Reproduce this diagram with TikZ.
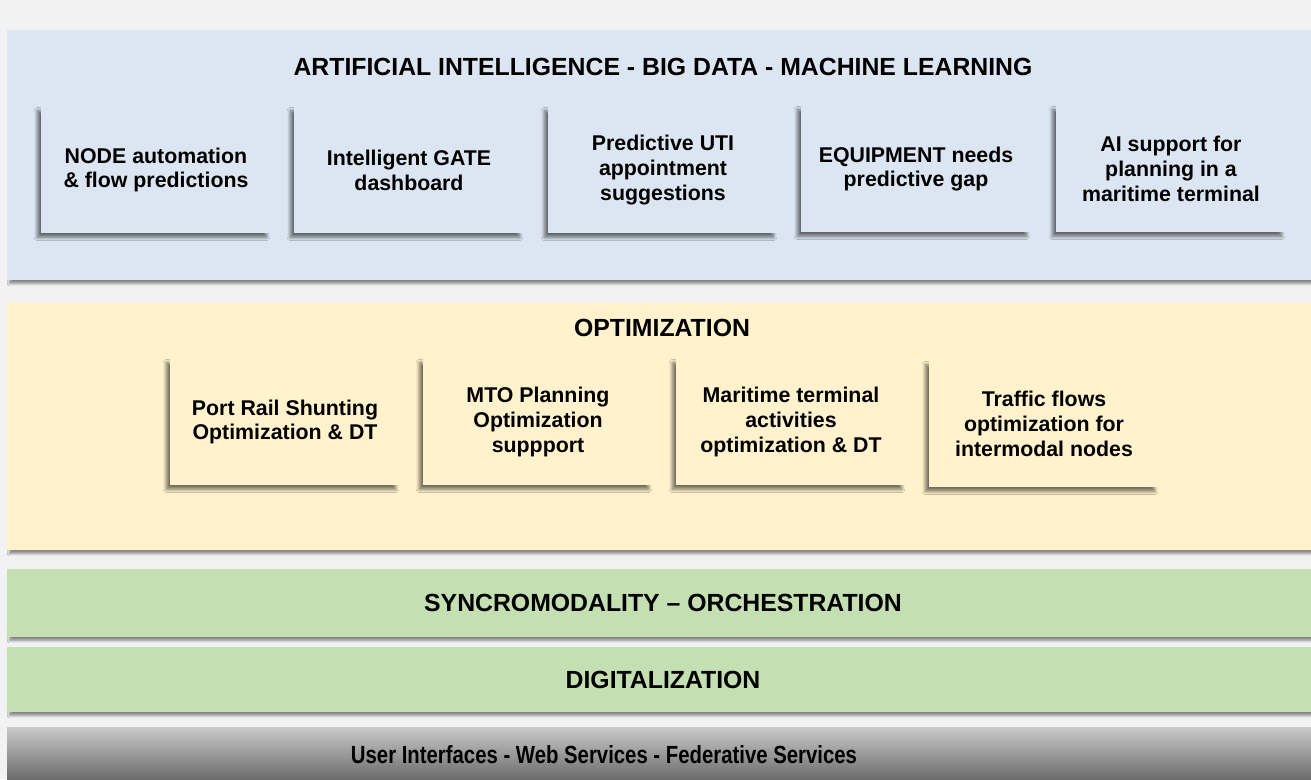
\documentclass[tikz,border=0pt]{standalone}
\usepackage{fontspec}
\setmainfont{Liberation Sans}
\usetikzlibrary{shadows.blur}

\definecolor{bgGray}{HTML}{F2F2F2}
\definecolor{aiBlue}{HTML}{DCE6F2}
\definecolor{optCream}{HTML}{FFF2CC}
\definecolor{layGreen}{HTML}{C4DFB1}
\definecolor{barTop}{HTML}{CACACA}
\definecolor{barBot}{HTML}{6C6C6C}

\begin{document}
\begin{tikzpicture}[x=0.75pt,y=-0.75pt,
    layer/.style={blur shadow={shadow xshift=2pt,shadow yshift=-2.6pt,shadow blur radius=1.8pt,shadow blur steps=10,shadow opacity=45}},
    card/.style={fill=#1,minimum width=172pt,minimum height=95pt,inner sep=0pt,align=center,
      font=\bfseries\fontsize{16}{18.6}\selectfont,
      blur shadow={shadow xshift=-3pt,shadow yshift=-3pt,shadow blur radius=2.4pt,shadow blur steps=10,shadow opacity=55}},
    heading/.style={inner sep=0pt,font=\bfseries\fontsize{18.6}{22}\selectfont}]
  \useasboundingbox (0,0) rectangle (1311,779);
  \fill[bgGray] (0,0) rectangle (1311,779);

  %Shape: layers
  \path[layer,fill=aiBlue] (7,30) rectangle (1311,280);
  \path[layer,fill=optCream] (7,303) rectangle (1311,550);
  \path[layer,fill=layGreen] (7,569) rectangle (1311,637);
  \path[layer,fill=layGreen] (7,647) rectangle (1311,712);
  \shade[top color=barTop,bottom color=barBot] (7,727) rectangle (1311,779);

  % Text Node: layer headings
  \node[heading] (aiHead) at (663,67) {ARTIFICIAL INTELLIGENCE - BIG DATA - MACHINE LEARNING};
  \node[heading] (optHead) at (662,328) {OPTIMIZATION};
  \node[heading] (syncHead) at (663,603) {SYNCROMODALITY -- ORCHESTRATION};
  \node[heading] (digiHead) at (663,680) {DIGITALIZATION};
  \node[heading,xscale=0.82] (uiHead) at (604,755) {User Interfaces - Web Services - Federative Services};

  % Card: AI row
  \node[card=aiBlue] (nodeAuto) at (156,170) {NODE automation\\\& flow predictions};
  \node[card=aiBlue] (gateDash) at (409,170) {Intelligent GATE\\dashboard};
  \node[card=aiBlue] (utiPred) at (663,170) {Predictive UTI\\appointment\\suggestions};
  \node[card=aiBlue] (equipGap) at (916,169) {EQUIPMENT needs\\predictive gap};
  \node[card=aiBlue] (aiPlan) at (1171,169) {AI support for\\planning in a\\maritime terminal};

  % Card: optimization row
  \node[card=optCream] (railShunt) at (285,422) {Port Rail Shunting\\Optimization \& DT};
  \node[card=optCream] (mtoPlan) at (538,422) {MTO Planning\\Optimization\\suppport};
  \node[card=optCream] (termAct) at (791,422) {Maritime terminal\\activities\\optimization \& DT};
  \node[card=optCream] (trafFlow) at (1044,424) {Traffic flows\\optimization for\\intermodal nodes};

\end{tikzpicture}
\end{document}
